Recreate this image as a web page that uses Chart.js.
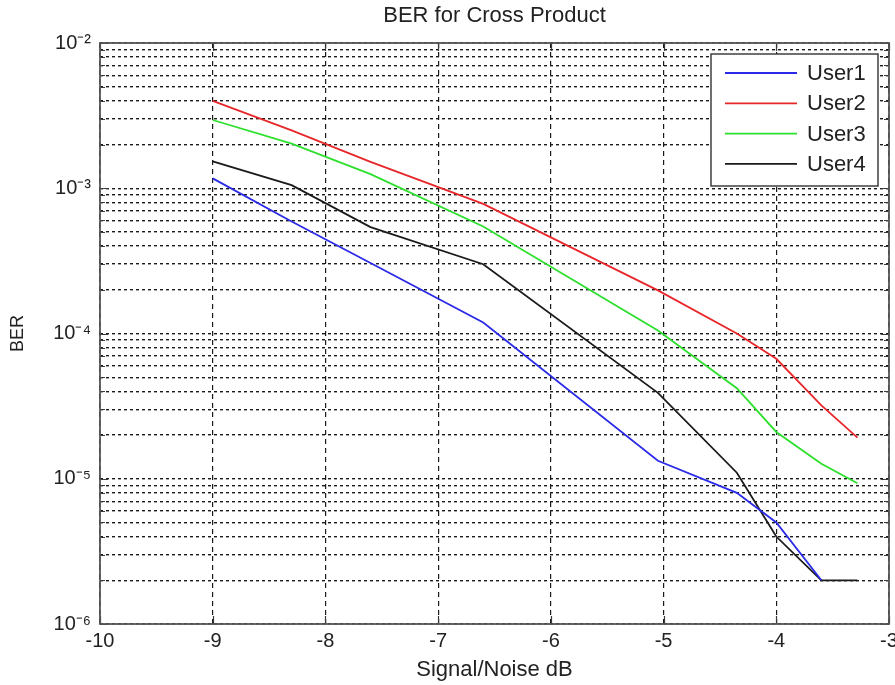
<!DOCTYPE html>
<html>
<head>
<meta charset="utf-8">
<script src="https://cdn.jsdelivr.net/npm/chart.js@4"></script>
<style>
  html, body { margin: 0; padding: 0; background: #ffffff; }
  #wrap { width: 895px; height: 685px; }
</style>
</head>
<body>
<div id="wrap"><canvas id="c" width="895" height="685"></canvas></div>
<script>
// ---- data ----
const snr = [-9, -8.3, -7.6, -6.6, -5.05, -4.35, -4.0, -3.6, -3.28];
const user1 = [1.17e-3, 5.9e-4, 3.06e-4, 1.19e-4, 1.33e-5, 8.0e-6, 5.0e-6, 2.0e-6, null];
const user2 = [4.0e-3, 2.5e-3, 1.52e-3, 7.8e-4, 1.98e-4, 1.0e-4, 6.7e-5, 3.2e-5, 1.92e-5];
const user3 = [2.95e-3, 2.03e-3, 1.25e-3, 5.45e-4, 1.05e-4, 4.2e-5, 2.1e-5, 1.27e-5, 9.3e-6];
const user4 = [1.53e-3, 1.05e-3, 5.4e-4, 3.0e-4, 3.9e-5, 1.1e-5, 4.0e-6, 2.0e-6, 2.0e-6];

const seriesNames = ['User1', 'User2', 'User3', 'User4'];
const seriesColors = ['#2a2ae8', '#e8262a', '#2ee02e', '#1a1a1a'];

const xTicks = [-10, -9, -8, -7, -6, -5, -4, -3];
const yExponents = [-6, -5, -4, -3, -2];
const yMantissas = [1, 2, 3, 4, 5, 6, 7, 8, 9];

const titleText = 'BER for Cross Product';
const xTitle = 'Signal/Noise dB';
const yTitle = 'BER';

const FONT = "'Liberation Sans', Arial, Helvetica, sans-serif";
const SUP = {'-': '\u207B', '0': '\u2070', '1': '\u00B9', '2': '\u00B2', '3': '\u00B3', '4': '\u2074',
             '5': '\u2075', '6': '\u2076', '7': '\u2077', '8': '\u2078', '9': '\u2079'};
function supText(n) { return String(n).split('').map(ch => SUP[ch] || ch).join(''); }

function toPoints(ys) { return snr.map((x, i) => ({x: x, y: ys[i]})); }
const allSeries = [user1, user2, user3, user4];

// y tick list: every m*10^e inside the range
const yTickValues = [];
yExponents.forEach((e, idx) => {
  yMantissas.forEach(m => {
    if (idx === yExponents.length - 1 && m > 1) return;
    yTickValues.push(Number((m + 'e' + e)));
  });
});
function isDecade(v) {
  const l = Math.log10(v);
  return Math.abs(l - Math.round(l)) < 1e-9;
}

const boxAndTicks = {
  id: 'boxAndTicks',
  afterDatasetsDraw(chart) {
    const ctx = chart.ctx, a = chart.chartArea;
    const xs = chart.scales.x, ys = chart.scales.y;
    ctx.save();
    ctx.strokeStyle = '#3a3a3a';
    ctx.lineWidth = 1.2;
    ctx.beginPath();
    ys.ticks.forEach(t => {
      const py = Math.round(ys.getPixelForValue(t.value)) + 0.5;
      const len = isDecade(t.value) ? 8 : 5;
      ctx.moveTo(a.left, py); ctx.lineTo(a.left + len, py);
      ctx.moveTo(a.right, py); ctx.lineTo(a.right - len, py);
    });
    xs.ticks.forEach(t => {
      const px = Math.round(xs.getPixelForValue(t.value)) + 0.5;
      ctx.moveTo(px, a.bottom); ctx.lineTo(px, a.bottom - 8);
      ctx.moveTo(px, a.top); ctx.lineTo(px, a.top + 8);
    });
    ctx.stroke();
    ctx.lineWidth = 1.8;
    ctx.strokeStyle = '#555555';
    ctx.strokeRect(a.left, a.top, a.right - a.left, a.bottom - a.top);
    ctx.restore();
  },
  afterDraw(chart) {
    // legend box inside the plot, top-right
    const ctx = chart.ctx, a = chart.chartArea;
    const boxR = a.right - 11, boxL = boxR - 167, boxT = a.top + 11, boxB = boxT + 132;
    ctx.save();
    ctx.fillStyle = '#ffffff';
    ctx.fillRect(boxL, boxT, boxR - boxL, boxB - boxT);
    ctx.strokeStyle = '#333333';
    ctx.lineWidth = 1.4;
    ctx.strokeRect(boxL, boxT, boxR - boxL, boxB - boxT);
    ctx.font = '22px ' + FONT;
    ctx.textBaseline = 'middle';
    ctx.textAlign = 'left';
    chart.data.datasets.forEach((ds, i) => {
      const cy = boxT + 19 + i * 30.3;
      ctx.strokeStyle = ds.borderColor;
      ctx.lineWidth = 1.8;
      ctx.beginPath();
      ctx.moveTo(boxL + 14, cy); ctx.lineTo(boxL + 86, cy);
      ctx.stroke();
      ctx.fillStyle = '#222222';
      ctx.fillText(ds.label, boxL + 96, cy + 1);
    });
    ctx.restore();
  }
};

const chart = new Chart(document.getElementById('c'), {
  type: 'scatter',
  data: {
    datasets: seriesNames.map((name, i) => ({
      label: name,
      data: toPoints(allSeries[i]),
      showLine: true,
      borderColor: seriesColors[i],
      backgroundColor: seriesColors[i],
      borderWidth: 1.8,
      pointRadius: 0,
      pointHoverRadius: 0,
      tension: 0,
      spanGaps: false
    }))
  },
  options: {
    responsive: false,
    animation: false,
    devicePixelRatio: 1,
    layout: { padding: { left: 0, right: 6, top: 0, bottom: 0 } },
    plugins: {
      legend: { display: false },
      tooltip: { enabled: false },
      title: {
        display: true,
        fullSize: false,
        text: titleText,
        color: '#222222',
        font: { family: FONT, size: 22, weight: 'normal' },
        padding: { top: 3, bottom: 13.6 }
      }
    },
    scales: {
      x: {
        type: 'linear',
        min: -10, max: -3,
        afterFit(scale) { scale.height = 61; scale.paddingLeft = 0; scale.paddingRight = 0; },
        afterBuildTicks(scale) { scale.ticks = xTicks.map(v => ({value: v})); },
        ticks: {
          color: '#222222',
          font: { family: FONT, size: 20 },
          padding: 5,
          maxRotation: 0,
          autoSkip: false,
          callback: v => String(v)
        },
        grid: { color: '#1a1a1a', lineWidth: 1.2, drawTicks: false },
        border: { display: false, dash: [5, 4] },
        title: {
          display: true,
          text: xTitle,
          color: '#222222',
          font: { family: FONT, size: 22 },
          padding: { top: 2, bottom: 2 }
        }
      },
      y: {
        type: 'logarithmic',
        min: 1e-6, max: 1e-2,
        afterFit(scale) { scale.width = 100; },
        afterBuildTicks(scale) { scale.ticks = yTickValues.map(v => ({value: v, major: isDecade(v)})); },
        ticks: {
          color: '#222222',
          font: { family: FONT, size: 20 },
          padding: 9,
          autoSkip: false,
          callback: v => isDecade(v) ? '10' + supText(Math.round(Math.log10(v))) : ''
        },
        grid: { color: '#1a1a1a', lineWidth: 1.4, drawTicks: false },
        border: { display: false, dash: [3, 3] },
        title: {
          display: true,
          text: yTitle,
          color: '#222222',
          font: { family: FONT, size: 18 },
          padding: { top: 7, bottom: 7 }
        }
      }
    }
  },
  plugins: [boxAndTicks]
});
</script>
</body>
</html>
